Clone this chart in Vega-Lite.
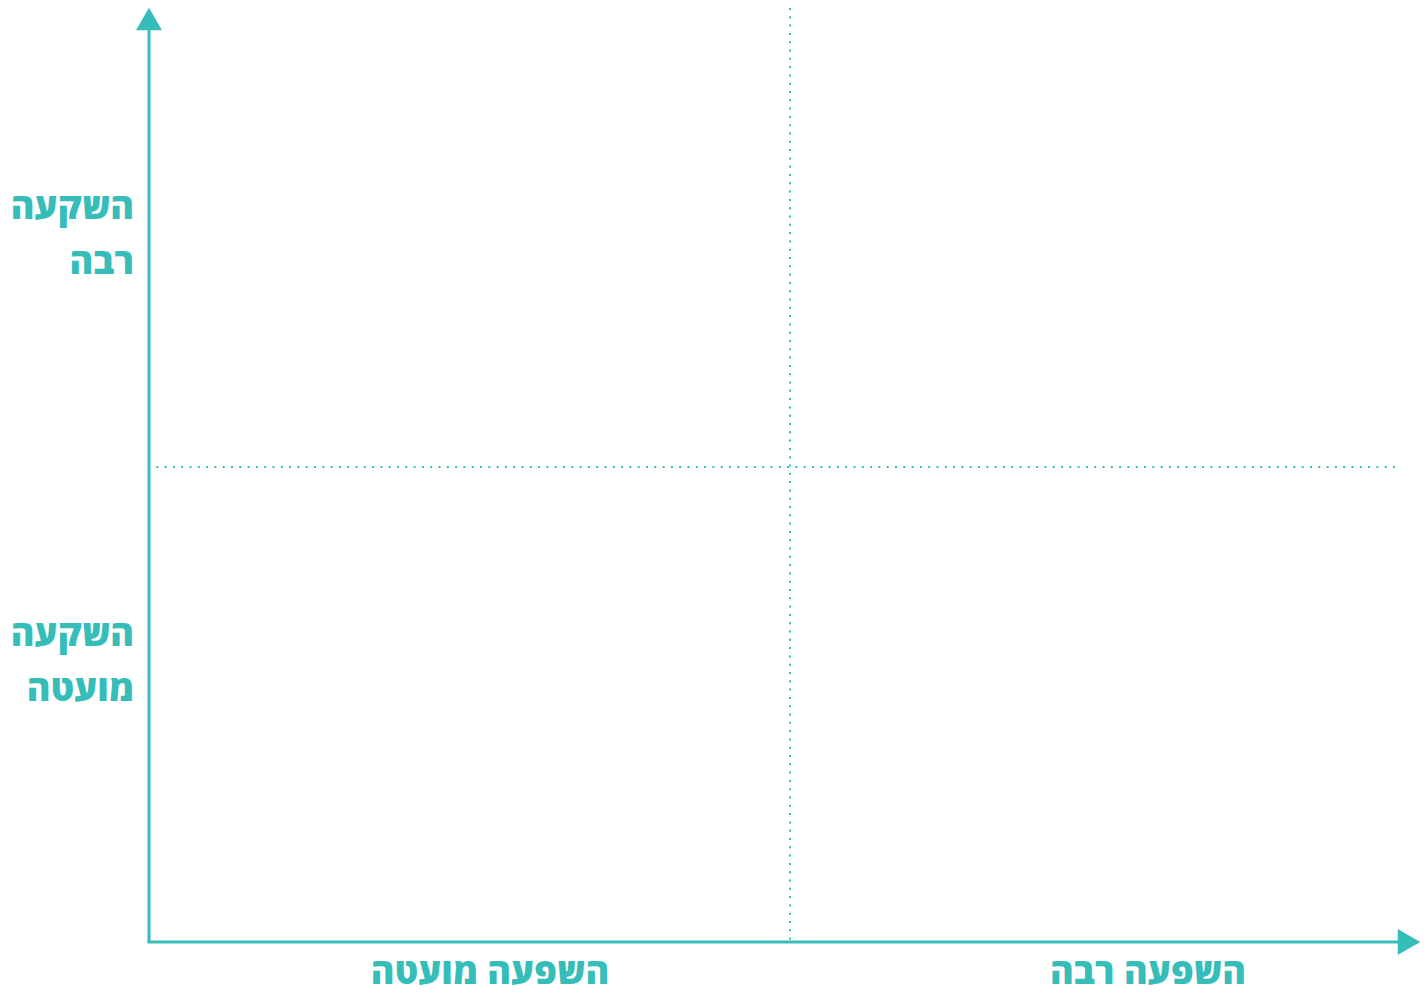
{
  "$schema": "https://vega.github.io/schema/vega-lite/v6.json",
  "width": 1428,
  "height": 994,
  "autosize": {"type": "fit", "contains": "padding"},
  "padding": 0,
  "background": "white",
  "config": {"view": {"stroke": null}},
  "datasets": {
    "axes": [
      {"x": 149, "y": 942, "x2": 149, "y2": 28},
      {"x": 147.5, "y": 942, "x2": 1400, "y2": 942}
    ],
    "dots": [
      {"x": 790, "y": 8, "x2": 790, "y2": 942},
      {"x": 148, "y": 467, "x2": 1400, "y2": 467}
    ],
    "arrows": [
      {"x": 149, "y": 19, "shape": "triangle-up"},
      {"x": 1409, "y": 942, "shape": "triangle-right"}
    ],
    "ylabels": [
      {"x": 134, "y": 208, "text": "השקעה"},
      {"x": 134, "y": 263, "text": "רבה"},
      {"x": 134, "y": 635, "text": "השקעה"},
      {"x": 134, "y": 690, "text": "מועטה"}
    ],
    "xlabels": [
      {"x": 490, "y": 973, "text": "השפעה מועטה"},
      {"x": 1148, "y": 973, "text": "השפעה רבה"}
    ]
  },
  "layer": [
    {
      "data": {"name": "axes"},
      "mark": {"type": "rule", "color": "#37bdb9", "strokeWidth": 3},
      "encoding": {
        "x": {"field": "x", "type": "quantitative", "scale": {"domain": [0, 1428], "nice": false, "zero": false}, "axis": null},
        "x2": {"field": "x2"},
        "y": {"field": "y", "type": "quantitative", "scale": {"domain": [0, 994], "nice": false, "zero": false, "reverse": true}, "axis": null},
        "y2": {"field": "y2"}
      }
    },
    {
      "data": {"name": "dots"},
      "mark": {"type": "rule", "color": "#37bdb9", "strokeWidth": 2, "strokeDash": [2, 6.3]},
      "encoding": {
        "x": {"field": "x", "type": "quantitative", "axis": null},
        "x2": {"field": "x2"},
        "y": {"field": "y", "type": "quantitative", "axis": null},
        "y2": {"field": "y2"}
      }
    },
    {
      "data": {"name": "arrows"},
      "mark": {"type": "point", "filled": true, "color": "#37bdb9", "opacity": 1, "size": 676},
      "encoding": {
        "x": {"field": "x", "type": "quantitative", "axis": null},
        "y": {"field": "y", "type": "quantitative", "axis": null},
        "shape": {"field": "shape", "type": "nominal", "scale": null, "legend": null}
      }
    },
    {
      "data": {"name": "ylabels"},
      "mark": {"type": "text", "color": "#37bdb9", "font": "Open Sans", "fontWeight": 800, "fontSize": 36, "baseline": "middle", "align": "right"},
      "encoding": {
        "x": {"field": "x", "type": "quantitative", "axis": null},
        "y": {"field": "y", "type": "quantitative", "axis": null},
        "text": {"field": "text"}
      }
    },
    {
      "data": {"name": "xlabels"},
      "mark": {"type": "text", "color": "#37bdb9", "font": "Open Sans", "fontWeight": 800, "fontSize": 36, "baseline": "middle", "align": "center"},
      "encoding": {
        "x": {"field": "x", "type": "quantitative", "axis": null},
        "y": {"field": "y", "type": "quantitative", "axis": null},
        "text": {"field": "text"}
      }
    }
  ]
}
